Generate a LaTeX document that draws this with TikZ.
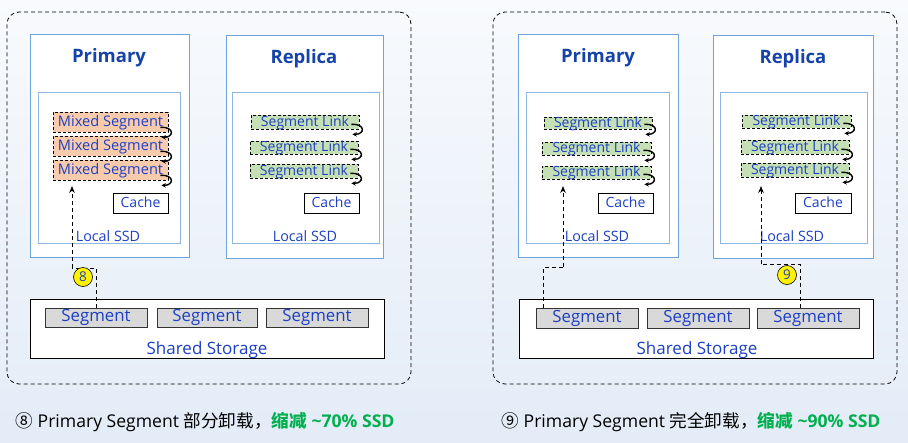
\documentclass[tikz,border=0pt]{standalone}
\usepackage{fontspec}
\setmainfont{Open Sans}
\newfontfamily\cjk{Noto Sans CJK SC}
\usetikzlibrary{calc,arrows.meta}
\definecolor{txtblue}{HTML}{1C3FC4}
\definecolor{ttlblue}{HTML}{1543A8}
\definecolor{boxblue}{HTML}{6FA3DC}
\definecolor{inblue}{HTML}{8DB6E3}
\definecolor{peach}{HTML}{F8CBAD}
\definecolor{lgreen}{HTML}{C5E0B4}
\definecolor{sgray}{HTML}{D9D9D9}
\definecolor{capgreen}{HTML}{00B050}
\definecolor{bgtop}{HTML}{F8FAFD}
\definecolor{bgbot}{HTML}{E3ECF7}
\tikzset{
  panel/.style={draw=black, dash pattern=on 4pt off 3pt, rounded corners=12pt, line width=0.8pt, inner sep=0pt},
  hostbox/.style={draw=boxblue, fill=white, line width=1pt, inner sep=0pt},
  ssdbox/.style={draw=inblue, fill=white, line width=1pt, inner sep=0pt},
  boxtext/.style={text height=0.8em, text depth=0pt, text=txtblue},
  mixbox/.style={draw=black, fill=peach, dash pattern=on 3pt off 2pt, line width=0.7pt, inner sep=0pt, boxtext, font=\fontsize{14.6}{14.6}\selectfont},
  linkbox/.style={draw=black, fill=lgreen, dash pattern=on 3pt off 2pt, line width=0.7pt, inner sep=0pt, boxtext, font=\fontsize{14}{14}\selectfont},
  cachebox/.style={draw=black, fill=white, line width=0.8pt, inner sep=0pt, minimum width=55pt, minimum height=20pt, boxtext, font=\fontsize{14}{14}\selectfont},
  sharedbox/.style={draw=black, fill=white, line width=1pt, inner sep=0pt},
  segbox/.style={draw=black!80, fill=sgray, line width=1pt, inner sep=0pt, minimum height=19pt, boxtext, font=\fontsize{16.8}{16.8}\selectfont},
  ttl/.style={font=\fontsize{18.5}{18.5}\selectfont\bfseries, text=ttlblue, yshift=-2.5pt},
  lbl/.style={font=\fontsize{14.3}{14.3}\selectfont, text=txtblue, yshift=-1pt},
  shlbl/.style={font=\fontsize{17}{17}\selectfont, text=txtblue, yshift=-1.5pt},
  badge/.style={circle, draw=black, line width=0.6pt, fill=yellow, minimum size=19pt, inner sep=0pt, font=\fontsize{13.5}{13.5}\selectfont, text=txtblue},
  flow/.style={draw=black, dash pattern=on 4pt off 3pt, line width=0.9pt},
  flowtip/.style={-{Stealth[length=7pt,width=5.5pt]}},
  curl/.style={draw=black, line width=1.4pt, -{Stealth[length=4.5pt,width=4.5pt]}},
  captxt/.style={font=\fontsize{17.6}{17.6}\selectfont, anchor=west}
}
\newcommand{\curlat}[1]{\draw[curl] ($(#1.south east)+(-8,-5)$) .. controls ($(#1.south east)+(6,-6)$) and ($(#1.south east)+(6,5)$) .. ($(#1.south east)+(-7,5)$);}
\begin{document}
\begin{tikzpicture}[x=1pt,y=-1pt]
\shade[top color=bgtop, bottom color=bgbot] (0,0) rectangle (908,442);
\useasboundingbox (0,0) rectangle (908,442);

% ================= LEFT PANEL =================
\node[panel, minimum width=404pt, minimum height=372pt] (pL) at (209,198) {};
\node[hostbox, minimum width=159pt, minimum height=223pt] (lP) at (109.5,145.5) {};
\node[ttl] (lPt) at (109,55) {Primary};
\node[ssdbox, minimum width=142pt, minimum height=151pt] (lPs) at (109,167.5) {};
\node[mixbox, minimum width=115pt, minimum height=20pt] (lm1) at (110.5,122) {Mixed Segment};
\node[mixbox, minimum width=115pt, minimum height=20pt] (lm2) at (110.5,146) {Mixed Segment};
\node[mixbox, minimum width=115pt, minimum height=20pt] (lm3) at (110.5,170) {Mixed Segment};
\curlat{lm1}\curlat{lm2}\curlat{lm3}
\node[cachebox] (lPc) at (140.5,203) {Cache};
\node[lbl] (lPl) at (108,235) {Local SSD};

\node[hostbox, minimum width=157pt, minimum height=223pt] (lR) at (304.5,146.5) {};
\node[ttl] (lRt) at (304,56) {Replica};
\node[ssdbox, minimum width=147pt, minimum height=151pt] (lRs) at (305.5,167.5) {};
\node[linkbox, minimum width=108pt, minimum height=14pt] (ll1) at (305,122) {Segment Link};
\node[linkbox, minimum width=108pt, minimum height=13pt] (ll2) at (304,147.5) {Segment Link};
\node[linkbox, minimum width=108pt, minimum height=14pt] (ll3) at (304,171) {Segment Link};
\curlat{ll1}\curlat{ll2}\curlat{ll3}
\node[cachebox] (lRc) at (331.5,203) {Cache};
\node[lbl] (lRl) at (305,235) {Local SSD};

\node[sharedbox, minimum width=354pt, minimum height=59pt] (lS) at (207,328.5) {};
\node[segbox, minimum width=102pt] (ls1) at (96,317.5) {Segment};
\node[segbox, minimum width=100pt] (ls2) at (207,317.5) {Segment};
\node[segbox, minimum width=102pt] (ls3) at (317,317.5) {Segment};
\node[shlbl] (lSl) at (207,349) {Shared Storage};

\coordinate (la1) at (72,268);
\coordinate (la2) at (72,186);
\draw[flow] (ls1.north) |- (la1);
\draw[flow, flowtip] (la1) -- (la2);
\node[badge] (b8) at (83,277) {8};

\node[captxt] (capL) at (12,422) {{\cjk ⑧}\ Primary Segment {\cjk 部分卸载，}\textcolor{capgreen}{\bfseries{\cjk 缩减} \textasciitilde70\% SSD}};

% ================= RIGHT PANEL =================
\node[panel, minimum width=404pt, minimum height=372pt] (pR) at (695,198) {};
\node[hostbox, minimum width=160pt, minimum height=223pt] (rP) at (598,145.5) {};
\node[ttl] (rPt) at (598,55) {Primary};
\node[ssdbox, minimum width=143pt, minimum height=151pt] (rPs) at (597.5,167.5) {};
\node[linkbox, minimum width=108pt, minimum height=12pt] (rp1) at (598,123) {Segment Link};
\node[linkbox, minimum width=109pt, minimum height=13pt] (rp2) at (596.5,148.5) {Segment Link};
\node[linkbox, minimum width=109pt, minimum height=13pt] (rp3) at (596.5,172.5) {Segment Link};
\curlat{rp1}\curlat{rp2}\curlat{rp3}
\node[cachebox] (rPc) at (625.5,203) {Cache};
\node[lbl] (rPl) at (597,235) {Local SSD};

\node[hostbox, minimum width=160pt, minimum height=223pt] (rR) at (793,146.5) {};
\node[ttl] (rRt) at (793,56) {Replica};
\node[ssdbox, minimum width=147pt, minimum height=151pt] (rRs) at (793.5,167.5) {};
\node[linkbox, minimum width=109pt, minimum height=13pt] (rl1) at (796.5,121.5) {Segment Link};
\node[linkbox, minimum width=108pt, minimum height=14pt] (rl2) at (795,147) {Segment Link};
\node[linkbox, minimum width=108pt, minimum height=14pt] (rl3) at (795,170) {Segment Link};
\curlat{rl1}\curlat{rl2}\curlat{rl3}
\node[cachebox, minimum width=56pt] (rRc) at (823,203) {Cache};
\node[lbl] (rRl) at (792,235) {Local SSD};

\node[sharedbox, minimum width=354pt, minimum height=59pt] (rS) at (696,328.5) {};
\node[segbox, minimum width=102pt, minimum height=20pt] (rs1) at (587,318) {Segment};
\node[segbox, minimum width=102pt, minimum height=20pt] (rs2) at (698,318) {Segment};
\node[segbox, minimum width=102pt, minimum height=20pt] (rs3) at (808,318) {Segment};
\node[shlbl] (rSl) at (697,349) {Shared Storage};

\coordinate (ra0) at ($(rs1.north west)+(8,0)$);
\coordinate (ra1) at (563,267);
\coordinate (ra2) at (563,186);
\draw[flow] (ra0) |- (ra1);
\draw[flow, flowtip] (ra1) -- (ra2);

\coordinate (rb0) at ($(rs3.north)+(-8,0)$);
\coordinate (rb1) at (761,264);
\coordinate (rb2) at (761,186);
\draw[flow] (rb0) |- (rb1);
\draw[flow, flowtip] (rb1) -- (rb2);
\node[badge] (b9) at (787,275) {9};

\node[captxt] (capR) at (498,422) {{\cjk ⑨}\ Primary Segment {\cjk 完全卸载，}\textcolor{capgreen}{\bfseries{\cjk 缩减} \textasciitilde90\% SSD}};
\end{tikzpicture}
\end{document}
